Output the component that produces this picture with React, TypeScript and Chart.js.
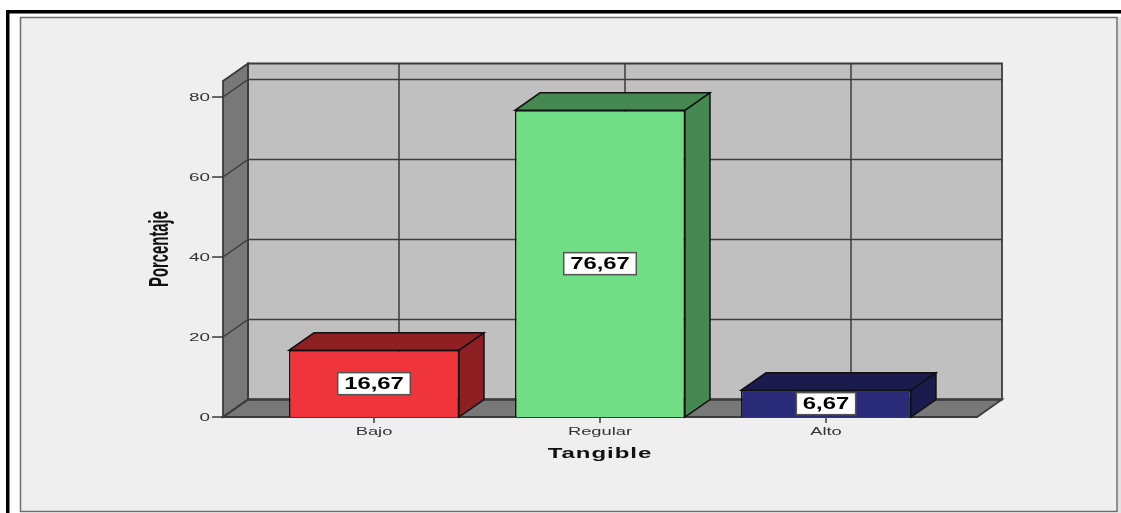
import React, { useEffect, useRef } from 'react';
import { Chart, registerables } from 'chart.js';

Chart.register(...registerables);

const categories = ['Bajo', 'Regular', 'Alto'];
const percentages = [16.67, 76.67, 6.67];
const yTicks = [0, 20, 40, 60, 80];
const yMax = 84;
const frontColors = ['#ef343b', '#70de85', '#292a78'];
const sideColors = ['#8e1f23', '#458851', '#1b1c4d'];
const xTitle = 'Tangible';
const yTitle = 'Porcentaje';

const DX = 25;
const DY = 17.5;
const EXT = 38;
const LINE = '#3c3c3c';
const FONT = '"Liberation Sans", Arial, sans-serif';

const fmt = (v: number) => v.toFixed(2).replace('.', ',');

function drawText(
  ctx: CanvasRenderingContext2D,
  text: string,
  x: number,
  y: number,
  font: string,
  sx: number,
  sy: number,
  align: CanvasTextAlign,
  color: string,
  rot = 0,
  spacing = 0
) {
  ctx.save();
  ctx.translate(x, y);
  if (rot) ctx.rotate(rot);
  ctx.scale(sx, sy);
  ctx.font = font;
  ctx.fillStyle = color;
  ctx.textAlign = align;
  ctx.textBaseline = 'middle';
  (ctx as any).letterSpacing = spacing + 'px';
  ctx.fillText(text, 0, 0);
  (ctx as any).letterSpacing = '0px';
  ctx.restore();
}

function poly(ctx: CanvasRenderingContext2D, pts: number[][], fill: string | null, stroke: string | null, lw = 1.5) {
  ctx.beginPath();
  ctx.moveTo(pts[0][0], pts[0][1]);
  for (let i = 1; i < pts.length; i++) ctx.lineTo(pts[i][0], pts[i][1]);
  ctx.closePath();
  if (fill) {
    ctx.fillStyle = fill;
    ctx.fill();
  }
  if (stroke) {
    ctx.strokeStyle = stroke;
    ctx.lineWidth = lw;
    ctx.lineJoin = 'miter';
    ctx.stroke();
  }
}

const spssPlugin = {
  id: 'spss3d',
  beforeDraw(chart: any) {
    const ctx: CanvasRenderingContext2D = chart.ctx;
    const W = chart.width;
    const H = chart.height;
    ctx.save();
    ctx.fillStyle = '#ffffff';
    ctx.fillRect(0, 0, W, H);
    ctx.fillStyle = '#000000';
    ctx.fillRect(6, 10, W - 6, 3.5);
    ctx.fillRect(6, 10, 3.5, H - 10);
    ctx.fillStyle = '#efefef';
    ctx.fillRect(20, 17, 1097, 495);
    ctx.fillStyle = '#e2e2e2';
    ctx.fillRect(1118, 17, 3, 496);
    ctx.strokeStyle = '#6e6e6e';
    ctx.lineWidth = 1.5;
    ctx.strokeRect(20.5, 17.5, 1096.5, 494);
    ctx.restore();
  },
  beforeDatasetsDraw(chart: any) {
    const ctx: CanvasRenderingContext2D = chart.ctx;
    const xs = chart.scales.x;
    const ys = chart.scales.y;
    const { left, right } = chart.chartArea;
    const fl = left - EXT;
    const fr = right + EXT;
    const y0 = ys.getPixelForValue(0);
    const yT = ys.getPixelForValue(yMax);
    ctx.save();
    // back wall
    poly(ctx, [[fl + DX, yT - DY], [fr + DX, yT - DY], [fr + DX, y0 - DY], [fl + DX, y0 - DY]], '#c0c0c0', null);
    // floor
    poly(ctx, [[fl, y0], [fr, y0], [fr + DX, y0 - DY], [fl + DX, y0 - DY]], '#787878', null);
    // left wall
    poly(ctx, [[fl, yT], [fl + DX, yT - DY], [fl + DX, y0 - DY], [fl, y0]], '#787878', null);
    // grid lines
    ctx.strokeStyle = LINE;
    ctx.lineWidth = 1.5;
    yTicks.forEach((v) => {
      const py = ys.getPixelForValue(v);
      ctx.beginPath();
      ctx.moveTo(fl, py);
      ctx.lineTo(fl + DX, py - DY);
      ctx.lineTo(fr + DX, py - DY);
      ctx.stroke();
    });
    categories.forEach((_, i) => {
      const px = xs.getPixelForValue(i);
      ctx.beginPath();
      ctx.moveTo(px + DX, yT - DY);
      ctx.lineTo(px + DX, y0 - DY);
      ctx.stroke();
    });
    // outlines
    poly(ctx, [[fl + DX, yT - DY], [fr + DX, yT - DY], [fr + DX, y0 - DY], [fl + DX, y0 - DY]], null, LINE, 1.8);
    poly(ctx, [[fl, y0], [fr, y0], [fr + DX, y0 - DY], [fl + DX, y0 - DY]], null, LINE, 1.8);
    poly(ctx, [[fl, yT], [fl + DX, yT - DY], [fl + DX, y0 - DY], [fl, y0]], null, LINE, 1.8);

    // y ticks and labels
    yTicks.forEach((v) => {
      const py = ys.getPixelForValue(v);
      ctx.strokeStyle = LINE;
      ctx.lineWidth = 1.5;
      ctx.beginPath();
      ctx.moveTo(fl - 11, py);
      ctx.lineTo(fl, py);
      ctx.stroke();
      drawText(ctx, String(v), fl - 13, py + 0.5, `11.8px ${FONT}`, 1.6, 1, 'right', '#333333');
    });
    // x ticks and labels
    categories.forEach((c, i) => {
      const px = xs.getPixelForValue(i);
      ctx.strokeStyle = LINE;
      ctx.lineWidth = 1.5;
      ctx.beginPath();
      ctx.moveTo(px, y0);
      ctx.lineTo(px, y0 + 6);
      ctx.stroke();
      drawText(ctx, c, px, y0 + 14.5, `11.6px ${FONT}`, 1.58, 1, 'center', '#333333');
    });
    // titles
    drawText(ctx, xTitle, (fl + fr) / 2, y0 + 37, `bold 15px ${FONT}`, 1.6, 1, 'center', '#111111', 0, 0.6);
    drawText(ctx, yTitle, 160, (yT + y0) / 2, `bold 18.6px ${FONT}`, 0.8, 1.5, 'center', '#111111', -Math.PI / 2);

    // 3D bar faces (top and side)
    const meta = chart.getDatasetMeta(0);
    meta.data.forEach((el: any, i: number) => {
      const { x, y, base, width } = el.getProps(['x', 'y', 'base', 'width'], true);
      const l = x - width / 2;
      const r = x + width / 2;
      poly(ctx, [[l, y], [r, y], [r + DX, y - DY], [l + DX, y - DY]], sideColors[i], '#111111', 1.5);
      poly(ctx, [[r, y], [r + DX, y - DY], [r + DX, base - DY], [r, base]], sideColors[i], '#111111', 1.5);
    });
    ctx.restore();
  },
  afterDatasetsDraw(chart: any) {
    const ctx: CanvasRenderingContext2D = chart.ctx;
    const meta = chart.getDatasetMeta(0);
    ctx.save();
    meta.data.forEach((el: any, i: number) => {
      const { x, y, base } = el.getProps(['x', 'y', 'base'], true);
      const cy = (y + base) / 2;
      const label = fmt(percentages[i]);
      const font = `bold 17px ${FONT}`;
      ctx.font = font;
      const tw = ctx.measureText(label).width * 1.4;
      const bw = tw + 13;
      const bh = 22;
      ctx.fillStyle = '#ffffff';
      ctx.fillRect(x - bw / 2, cy - bh / 2, bw, bh);
      ctx.strokeStyle = '#555555';
      ctx.lineWidth = 1.5;
      ctx.strokeRect(x - bw / 2, cy - bh / 2, bw, bh);
      drawText(ctx, label, x, cy + 0.5, font, 1.4, 1, 'center', '#000000');
    });
    ctx.restore();
  },
};

export default function App() {
  const ref = useRef<HTMLCanvasElement>(null);
  useEffect(() => {
    if (!ref.current) return;
    const chart = new Chart(ref.current, {
      type: 'bar',
      data: {
        labels: categories,
        datasets: [
          {
            data: percentages,
            backgroundColor: frontColors,
            borderColor: '#111111',
            borderWidth: 1.5,
            barPercentage: 0.752,
            categoryPercentage: 1,
          },
        ],
      },
      options: {
        responsive: false,
        animation: false,
        devicePixelRatio: 1,
        layout: { padding: { left: 261, right: 182, top: 81, bottom: 96 } },
        plugins: { legend: { display: false }, tooltip: { enabled: false } },
        scales: {
          x: { display: false },
          y: { display: false, min: 0, max: yMax },
        },
      },
      plugins: [spssPlugin],
    });
    return () => chart.destroy();
  }, []);
  return (
    <div style={{ position: 'fixed', left: 0, top: 0, width: 1121, height: 513 }}>
      <canvas ref={ref} width={1121} height={513} />
    </div>
  );
}
